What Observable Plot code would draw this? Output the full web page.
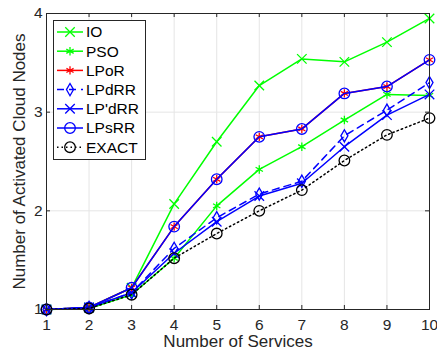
<!DOCTYPE html>
<html><head><meta charset="utf-8">
<script src="https://cdn.jsdelivr.net/npm/d3@7"></script>
<script src="https://cdn.jsdelivr.net/npm/@observablehq/plot@0.6"></script>
<style>html,body{margin:0;padding:0;background:#fff;}</style>
</head><body><div id="chart"></div>
<script>
const services = [1, 2, 3, 4, 5, 6, 7, 8, 9, 10];
const xTicks = [1, 2, 3, 4, 5, 6, 7, 8, 9, 10];
const yTicks = [1, 2, 3, 4];
const xLabel = "Number of Services";
const yLabel = "Number of Activated Cloud Nodes";
const seriesNames = ["IO", "PSO", "LPoR", "LPdRR", "LP'dRR", "LPsRR", "EXACT"];
const ioValues     = [1.00, 1.02, 1.22, 2.07, 2.70, 3.27, 3.54, 3.51, 3.71, 3.95];
const psoValues    = [1.00, 1.01, 1.15, 1.52, 2.05, 2.42, 2.65, 2.92, 3.18, 3.17];
const lporValues   = [1.00, 1.02, 1.22, 1.84, 2.32, 2.75, 2.83, 3.19, 3.26, 3.53];
const lpdrrValues  = [1.00, 1.02, 1.17, 1.62, 1.93, 2.17, 2.30, 2.76, 3.02, 3.30];
const lppdrrValues = [1.00, 1.02, 1.17, 1.57, 1.89, 2.15, 2.28, 2.65, 2.97, 3.18];
const lpsrrValues  = [1.00, 1.02, 1.22, 1.84, 2.32, 2.75, 2.83, 3.19, 3.26, 3.53];
const exactValues  = [1.00, 1.01, 1.15, 1.52, 1.77, 2.00, 2.21, 2.51, 2.77, 2.94];

const allValues = [ioValues, psoValues, lporValues, lpdrrValues, lppdrrValues, lpsrrValues, exactValues];
const styles = [
  {color: "#00ff00", symbol: "times", d3sym: d3.symbolTimes, r: 4.4, dash: null},
  {color: "#00ff00", symbol: "asterisk", d3sym: d3.symbolAsterisk, r: 4.0, dash: null},
  {color: "#ff0000", symbol: "asterisk", d3sym: d3.symbolAsterisk, r: 3.9, dash: null},
  {color: "#0000ff", symbol: "diamond", d3sym: d3.symbolDiamond, r: 3.7, dash: "7,5"},
  {color: "#0000ff", symbol: "times", d3sym: d3.symbolTimes, r: 4.4, dash: null},
  {color: "#0000ff", symbol: "circle", d3sym: d3.symbolCircle, r: 5.3, dash: null},
  {color: "#000000", symbol: "circle", d3sym: d3.symbolCircle, r: 5.3, dash: "1.5,3"}
];

const W = 437, H = 354, mL = 46, mR = 8, mT = 13, mB = 45;
const frameH = H - mT - mB, frameW = W - mL - mR, tickLen = 4;
const axisColor = "#262626";
const fontFam = "'Liberation Sans', Arial, Helvetica, sans-serif";

const seriesMarks = [];
allValues.forEach((vals, k) => {
  const data = services.map((x, i) => ({x, y: vals[i]}));
  const s = styles[k];
  seriesMarks.push(Plot.line(data, {x: "x", y: "y", stroke: s.color, strokeWidth: 1.5, strokeDasharray: s.dash}));
  seriesMarks.push(Plot.dot(data, {x: "x", y: "y", symbol: s.symbol, r: s.r, stroke: s.color, fill: "none", strokeWidth: 1.3}));
});

const chart = Plot.plot({
  width: W, height: H,
  marginLeft: mL, marginRight: mR, marginTop: mT, marginBottom: mB,
  style: {fontFamily: fontFam, fontSize: "15.5px", background: "#fff"},
  x: {domain: [1, 10]},
  y: {domain: [1, 4]},
  marks: [
    Plot.gridX(xTicks, {stroke: "#e5e5e5", strokeOpacity: 1}),
    Plot.gridY(yTicks, {stroke: "#e5e5e5", strokeOpacity: 1}),
    ...seriesMarks,
    Plot.tickX(xTicks, {insetTop: frameH - tickLen, stroke: axisColor}),
    Plot.tickX(xTicks, {insetBottom: frameH - tickLen, stroke: axisColor}),
    Plot.tickY(yTicks, {insetRight: frameW - tickLen, stroke: axisColor}),
    Plot.tickY(yTicks, {insetLeft: frameW - tickLen, stroke: axisColor}),
    Plot.frame({stroke: axisColor}),
    Plot.axisX(xTicks, {tickSize: 0, tickPadding: 9, label: null, fill: axisColor, fontSize: 15.5, tickFormat: d => String(d)}),
    Plot.axisY(yTicks, {tickSize: 0, tickPadding: 4, label: null, fill: axisColor, fontSize: 15.5, tickFormat: d => String(d)}),
    Plot.text([xLabel], {frameAnchor: "bottom", dy: 32, lineAnchor: "middle", textAnchor: "middle", fontSize: 17, fill: axisColor}),
    Plot.text([yLabel], {frameAnchor: "left", dx: -27, rotate: -90, lineAnchor: "middle", textAnchor: "middle", fontSize: 17, fill: axisColor})
  ]
});
document.getElementById("chart").appendChild(chart);

// Legend inside the plot
const svg = d3.select(chart.tagName.toLowerCase() === "svg" ? chart : chart.querySelector("svg"));
const lg = svg.append("g").attr("font-family", fontFam).attr("font-size", "15.5px").attr("text-anchor", "start");
lg.append("rect").attr("x", 53.5).attr("y", 20.5).attr("width", 92).attr("height", 139)
  .attr("fill", "#fff").attr("stroke", axisColor).attr("stroke-width", 1);
seriesNames.forEach((name, i) => {
  const s = styles[i];
  const cy = 32 + i * 19.2;
  lg.append("line").attr("x1", 57).attr("x2", 83).attr("y1", cy).attr("y2", cy)
    .attr("stroke", s.color).attr("stroke-width", 1.5).attr("stroke-dasharray", s.dash);
  lg.append("path").attr("d", d3.symbol(s.d3sym, Math.PI * s.r * s.r)())
    .attr("transform", `translate(70,${cy})`).attr("fill", "none").attr("stroke", s.color).attr("stroke-width", 1.3);
  lg.append("text").attr("x", 86).attr("y", cy).attr("dy", "0.35em").attr("text-anchor", "start").attr("fill", "#000").text(name);
});
</script></body></html>
